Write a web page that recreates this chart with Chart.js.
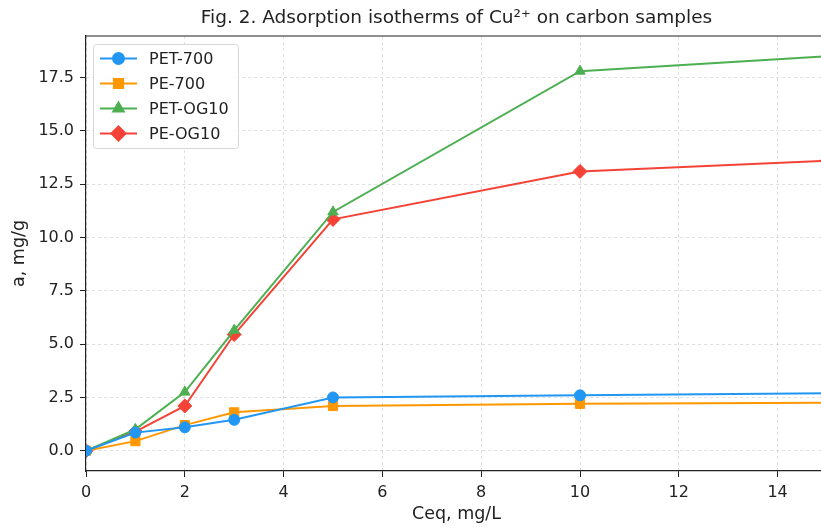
<!DOCTYPE html>
<html>
<head>
<meta charset="utf-8">
<script src="https://cdn.jsdelivr.net/npm/chart.js@4"></script>
<style>
  html, body { margin: 0; padding: 0; width: 821px; height: 529px; overflow: hidden; background: #fff; }
</style>
</head>
<body>
<!-- the original plot is cut a few pixels before its right spine, so the canvas runs past the window -->
<canvas id="isotherms" width="828" height="529"></canvas>
<script>
// Ceq, mg/L
const ceq = [0, 1, 2, 3, 5, 10, 15];
// adsorption a, mg/g
const pet700 = [0, 0.85, 1.1, 1.45, 2.5, 2.6, 2.7];
const pe700 = [0, 0.45, 1.2, 1.8, 2.1, 2.2, 2.25];
const petOg10 = [0, 1.0, 2.75, 5.65, 11.2, 17.8, 18.5];
const peOg10 = [0, 0.9, 2.1, 5.45, 10.85, 13.1, 13.6];

const xTicks = [0, 2, 4, 6, 8, 10, 12, 14];
const yTicks = [0, 2.5, 5, 7.5, 10, 12.5, 15, 17.5];

const titleText = 'Fig. 2. Adsorption isotherms of Cu\u00b2\u207a on carbon samples';
const xTitle = 'Ceq, mg/L';
const yTitle = 'a, mg/g';

const FONT = '"DejaVu Sans", sans-serif';

function series(label, ys, color, style, radius) {
    return {
        label: label,
        data: ceq.map((x, i) => ({x: x, y: ys[i]})),
        borderColor: color,
        backgroundColor: color,
        borderWidth: 2,
        pointStyle: style,
        pointRadius: radius,
        pointBorderWidth: 1,
        pointHoverRadius: radius,
        tension: 0
    };
}

const datasets = [
    series('PET-700', pet700, '#2196f3', 'circle', 5.5),
    series('PE-700', pe700, '#ff9800', 'rect', 6.5),
    series('PET-OG10', petOg10, '#4caf50', 'triangle', 6),
    series('PE-OG10', peOg10, '#f44336', 'rectRot', 7)
];

// title, axis titles, top spine and the legend box inside the plot
const decorations = {
    id: 'decorations',
    afterDraw(chart) {
        const {ctx, chartArea: a} = chart;
        const cx = (a.left + a.right) / 2;
        ctx.save();
        ctx.strokeStyle = '#222';
        ctx.lineWidth = 1.2;
        ctx.beginPath();
        ctx.moveTo(a.left, a.top);
        ctx.lineTo(a.right, a.top);
        ctx.stroke();

        ctx.fillStyle = '#222';
        ctx.textAlign = 'center';
        ctx.textBaseline = 'middle';
        ctx.font = '18.5px ' + FONT;
        ctx.fillText(titleText, cx, 18);
        ctx.font = '17.5px ' + FONT;
        ctx.fillText(xTitle, cx, 514);
        ctx.translate(19, (a.top + a.bottom) / 2);
        ctx.rotate(-Math.PI / 2);
        ctx.fillText(yTitle, 0, 0);
        ctx.restore();

        // legend
        ctx.save();
        ctx.fillStyle = 'rgba(255,255,255,0.85)';
        ctx.strokeStyle = '#d6d6d6';
        ctx.lineWidth = 1;
        ctx.beginPath();
        ctx.roundRect(93.5, 44.5, 145, 104, 3);
        ctx.fill();
        ctx.stroke();
        ctx.font = '16px ' + FONT;
        ctx.textAlign = 'left';
        ctx.textBaseline = 'middle';
        chart.data.datasets.forEach((ds, i) => {
            const y = 58.5 + i * 25;
            ctx.strokeStyle = ds.borderColor;
            ctx.lineWidth = ds.borderWidth;
            ctx.beginPath();
            ctx.moveTo(100, y);
            ctx.lineTo(137, y);
            ctx.stroke();
            ctx.fillStyle = ds.backgroundColor;
            Chart.helpers.drawPoint(ctx, {
                pointStyle: ds.pointStyle, radius: ds.pointRadius,
                rotation: 0, borderWidth: 1
            }, 118.5, y);
            ctx.fillStyle = '#222';
            ctx.fillText(ds.label, 149, y + 1);
        });
        ctx.restore();
    }
};

new Chart(document.getElementById('isotherms'), {
    type: 'line',
    data: { datasets: datasets },
    options: {
        responsive: false,
        animation: false,
        devicePixelRatio: 1,
        layout: { autoPadding: false, padding: { top: 36, right: 1, left: 0, bottom: 0 } },
        plugins: {
            legend: { display: false },
            tooltip: { enabled: false },
            title: { display: false }
        },
        scales: {
            x: {
                type: 'linear',
                min: 0,
                max: 15,
                afterBuildTicks: s => { s.ticks = xTicks.map(v => ({value: v})); },
                afterFit: s => { s.height = 58; s.paddingRight = 0; },
                ticks: {
                    color: '#222',
                    font: { family: FONT, size: 16 },
                    padding: 6,
                    maxRotation: 0,
                    callback: v => String(v)
                },
                grid: {
                    color: 'rgba(0,0,0,0.13)',
                    tickColor: '#222',
                    tickLength: 6,
                    tickWidth: 1
                },
                border: { color: '#222', width: 1.2, dash: [3, 3] }
            },
            y: {
                min: -0.95,
                max: 19.45,
                afterBuildTicks: s => { s.ticks = yTicks.map(v => ({value: v})); },
                afterFit: s => { s.width = 86; },
                ticks: {
                    color: '#222',
                    font: { family: FONT, size: 16 },
                    padding: 6,
                    callback: v => v.toFixed(1)
                },
                grid: {
                    color: 'rgba(0,0,0,0.13)',
                    tickColor: '#222',
                    tickLength: 6,
                    tickWidth: 1
                },
                border: { color: '#222', width: 1.2, dash: [3, 3] }
            }
        }
    },
    plugins: [decorations]
});
</script>
</body>
</html>
